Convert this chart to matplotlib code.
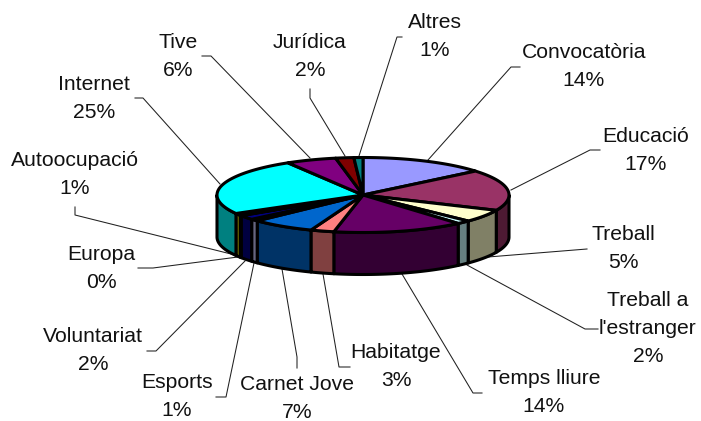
import numpy as np
import matplotlib
matplotlib.use('Agg')
import matplotlib.pyplot as plt

plt.rcParams['font.family'] = ['Liberation Sans', 'DejaVu Sans']

names = ['Convocatòria', 'Educació', 'Treball', "Treball a\nl'estranger", 'Temps lliure',
         'Habitatge', 'Carnet Jove', 'Esports', 'Voluntariat', 'Europa',
         'Autoocupació', 'Internet', 'Tive', 'Jurídica', 'Altres']
values = [14.0, 17.7, 5.5, 1.5, 14.5, 2.6, 7.1, 0.9, 1.9, 0.2, 0.9, 24.6, 5.6, 2.0, 1.0]
shown = [14, 17, 5, 2, 14, 3, 7, 1, 2, 0, 1, 25, 6, 2, 1]
colors = ['#9999FF', '#993366', '#FFFFCC', '#CCFFFF', '#660066', '#FF8080', '#0066CC', '#CCCCFF',
          '#000080', '#FF00FF', '#FFFF00', '#00FFFF', '#800080', '#800000', '#008080']
sides = ['#4D4D80', '#4D1A33', '#808066', '#668080', '#330033', '#804040', '#003366', '#666680',
         '#000040', '#800080', '#808000', '#008080', '#400040', '#400000', '#004040']

# label centre and leader line (label end, elbow, pie end), in pixels
label_xy = [(584, 67), (646, 151), (623, 249), (648, 329), (544, 392), (396, 366), (297, 398),
            (177, 397), (93, 351), (101, 268), (75, 175), (94, 98), (178, 56), (310, 57), (435, 36)]
leaders = [[(520, 67), (511, 67), (428, 160)], [(600, 150), (590, 150), (511, 190)],
           [(587, 249), (488, 257)], [(598, 329), (585, 329), (467, 265)],
           [(482, 393), (473, 393), (402, 274)], [(350, 367), (339, 367), (323, 274)],
           [(297, 368), (297, 357), (282, 269)], [(216, 397), (226, 397), (254, 263)],
           [(147, 351), (156, 351), (245, 261)], [(138, 268), (153, 268), (238, 257)],
           [(75, 207), (75, 215), (235, 255)], [(135, 98), (143, 98), (220, 184)],
           [(202, 56), (211, 56), (310, 158)], [(310, 89), (310, 98), (345, 156)],
           [(402, 37), (397, 37), (359, 156)]]

cx, cy = 363, 195
a, b = 146, 37.5
depth = 42

fig = plt.figure(figsize=(7.01, 4.21), dpi=100)
ax = fig.add_axes([0, 0, 1, 1])
ax.set_xlim(0, 701)
ax.set_ylim(421, 0)
ax.axis('off')


def rim(t1, t2, n=60):
    t = np.radians(np.linspace(t1, t2, n))
    return cx + a * np.sin(t), cy - b * np.cos(t)


edges = np.cumsum([0] + values) / sum(values) * 360

# side wall, only the front half of the ellipse shows
for i in range(len(values)):
    t1, t2 = max(edges[i], 90), min(edges[i + 1], 270)
    if t1 >= t2:
        continue
    x, y = rim(t1, t2)
    px = np.r_[x, x[::-1]]
    py = np.r_[y, y[::-1] + depth]
    ax.fill(px, py, fc=sides[i], ec='black', lw=2.2, joinstyle='round', zorder=2)

# top faces
for i in range(len(values)):
    x, y = rim(edges[i], edges[i + 1])
    ax.fill(np.r_[cx, x], np.r_[cy, y], fc=colors[i], ec='black', lw=2.2, joinstyle='round', zorder=3)

for i, name in enumerate(names):
    pts = np.array(leaders[i])
    ax.plot(pts[:, 0], pts[:, 1], color='#202020', lw=0.75, zorder=1)
    ax.text(label_xy[i][0], label_xy[i][1], f'{name}\n{shown[i]}%', ha='center', va='center',
            fontsize=15.2, linespacing=1.6, color='#111111', zorder=4)

fig.savefig('out.png', dpi=100)
